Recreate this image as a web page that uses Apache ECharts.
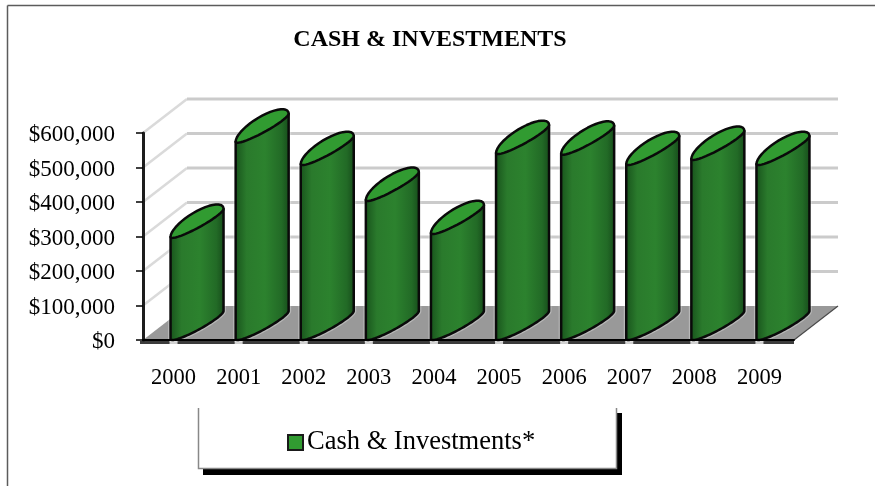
<!DOCTYPE html>
<html>
<head>
<meta charset="utf-8">
<script src="https://cdn.jsdelivr.net/npm/echarts@6/dist/echarts.min.js"></script>
<style>
    html, body { margin: 0; padding: 0; background: #fff; }
    #chart { width: 875px; height: 486px; }
</style>
</head>
<body>
<div id="chart"></div>
<script>
// values
const years = ['2000', '2001', '2002', '2003', '2004', '2005', '2006', '2007', '2008', '2009'];
const cashValues = [296000, 572000, 507000, 403000, 307000, 539000, 537000, 507000, 522000, 507000];
const wallTicks = [100000, 200000, 300000, 400000, 500000, 600000];
const seriesName = 'Cash & Investments*';

const fontName = '"Liberation Serif", "Times New Roman", serif';
const depthX = 44;   // how far the back wall is pushed right
const depthY = 34;   // and up

// the disc is not a true ellipse in the picture: it bulges more on its upper side
function discPoint(cx, cy, t) {
    const s = Math.sin(t);
    const bulge = s > 0 ? 12 : 5.5;
    return [cx + 26.5 * Math.cos(t), cy - 14 * Math.cos(t) - bulge * s];
}

function arc(cx, cy, from, to) {
    let pts = [];
    for (let i = 0; i <= 40; i++) {
        pts.push(discPoint(cx, cy, from + (to - from) * i / 40));
    }
    return pts;
}

function renderCylinder(params, api) {
    const top = api.coord([api.value(0), api.value(1)]);
    const base = api.coord([api.value(0), 0]);
    const cx = top[0] + depthX / 2 - 0.5;
    const cyTop = top[1] - 15;
    const cyBase = base[1] - 15;

    // side surface: lower arc of the base, closed up at the two top corners
    const bodyPts = [discPoint(cx, cyTop, Math.PI)]
        .concat(arc(cx, cyBase, Math.PI, 2 * Math.PI))
        .concat([discPoint(cx, cyTop, 0)]);

    const bodyFill = new echarts.graphic.LinearGradient(0, 0, 1, 0, [
        { offset: 0, color: '#17511b' },
        { offset: 0.22, color: '#2a7a2c' },
        { offset: 0.55, color: '#2c822e' },
        { offset: 0.85, color: '#226a26' },
        { offset: 1, color: '#164a1a' }
    ]);

    return {
        type: 'group',
        children: [
            {
                // pale halo that softens the grid lines next to each bar
                type: 'polygon',
                shape: { points: bodyPts },
                style: { fill: 'none', stroke: 'rgba(255,255,255,0.3)', lineWidth: 5, lineJoin: 'round' }
            },
            {
                type: 'polygon',
                shape: { points: bodyPts },
                style: { fill: bodyFill, stroke: '#0a0a0a', lineWidth: 2.5, lineJoin: 'round' }
            },
            {
                type: 'polygon',
                shape: { points: arc(cx, cyTop, 0, 2 * Math.PI) },
                style: { fill: '#319b31', stroke: '#0a0a0a', lineWidth: 2.5, lineJoin: 'round' }
            }
        ]
    };
}

// back wall grid lines, one per tick
function renderWallLine(params, api) {
    const y = api.coord([0, api.value(1)])[1];
    const x0 = params.coordSys.x;
    const x1 = x0 + params.coordSys.width;
    return {
        type: 'group',
        children: [
            {
                type: 'line',
                shape: { x1: x0, y1: y, x2: x0 + depthX, y2: y - depthY },
                style: { stroke: '#dadada', lineWidth: 2.5 }
            },
            {
                type: 'line',
                shape: { x1: x0 + depthX, y1: y - depthY, x2: x1 + depthX, y2: y - depthY },
                style: { stroke: '#cbcbcb', lineWidth: 3 }
            }
        ]
    };
}

// grey floor and the broken dark stripe under it
function renderFloor(params, api) {
    const x0 = params.coordSys.x;
    const x1 = x0 + params.coordSys.width;
    const y = api.coord([0, 0])[1];
    let children = [
        {
            type: 'polygon',
            shape: { points: [[x0, y], [x1, y], [x1 + depthX, y - depthY], [x0 + depthX, y - depthY]] },
            style: { fill: '#999999' }
        },
        {
            type: 'line',
            shape: { x1: x1, y1: y, x2: x1 + depthX, y2: y - depthY },
            style: { stroke: '#4a4a4a', lineWidth: 1.2 }
        },
        {
            type: 'line',
            shape: { x1: x0 - 3, y1: y + 2.5, x2: x1, y2: y + 2.5 },
            style: { stroke: '#cfcfcf', lineWidth: 3 }
        }
    ];
    let from = x0 - 3;
    for (let i = 0; i <= years.length; i++) {
        const to = i < years.length ? api.coord([i, 0])[0] - 6 : x1;
        children.push({
            type: 'line',
            shape: { x1: from, y1: y + 2.5, x2: to, y2: y + 2.5 },
            style: { stroke: '#3c3c3c', lineWidth: 3 }
        });
        from = to + 8;
    }
    return { type: 'group', children: children };
}

let cash_option = {
    animation: false,
    backgroundColor: '#fff',
    title: {
        text: 'CASH & INVESTMENTS',
        left: 425,
        top: 23,
        textAlign: 'center',
        textStyle: { fontFamily: fontName, fontSize: 24, fontWeight: 'bold', color: '#000' }
    },
    grid: { left: 143, right: 81, top: 133, bottom: 146 },
    legend: {
        data: [seriesName],
        left: 282,
        top: 424,
        icon: 'rect',
        itemWidth: 15,
        itemHeight: 15,
        itemGap: 6,
        textStyle: { fontFamily: fontName, fontSize: 26.5, color: '#000', padding: [0, 0, 0, -1] },
        selectedMode: false
    },
    xAxis: {
        type: 'category',
        data: years,
        z: 6,
        axisLine: { lineStyle: { color: '#000', width: 2 } },
        axisTick: { show: false },
        axisLabel: {
            margin: 27,
            formatter: (v) => '{a|' + v + '}',
            rich: {
                a: { fontFamily: fontName, fontSize: 22.5, color: '#000', padding: [0, 4, 0, 0] }
            }
        }
    },
    yAxis: {
        type: 'value',
        min: 0,
        max: 600000,
        interval: 100000,
        z: 6,
        axisLine: { show: true, lineStyle: { color: '#1c1c1c', width: 3 } },
        axisTick: { show: true, length: 7, lineStyle: { color: '#000', width: 1.5 } },
        splitLine: { show: false },
        axisLabel: {
            margin: 28,
            formatter: (v) => '{a|$' + v.toLocaleString('en-US') + '}',
            rich: {
                a: { fontFamily: fontName, fontSize: 23, color: '#000', padding: [4, 0, 0, 0] }
            }
        }
    },
    series: [
        {
            type: 'custom',
            name: 'floor',
            silent: true,
            z: 1,
            data: [[0, 0]],
            renderItem: renderFloor
        },
        {
            type: 'custom',
            name: 'wall',
            silent: true,
            z: 2,
            data: wallTicks.map((v) => [0, v]),
            renderItem: renderWallLine
        },
        {
            type: 'custom',
            name: seriesName,
            silent: true,
            z: 3,
            itemStyle: { color: '#319b31', borderColor: '#1a1a1a', borderWidth: 2 },
            data: cashValues.map((v, i) => [i, v]),
            renderItem: renderCylinder
        }
    ],
    graphic: [
        // outer frame, only top and left show
        { type: 'line', shape: { x1: 7.5, y1: 5.5, x2: 875, y2: 5.5 }, style: { stroke: '#5c5c5c', lineWidth: 1.5 } },
        { type: 'line', shape: { x1: 7.5, y1: 5.5, x2: 7.5, y2: 486 }, style: { stroke: '#5c5c5c', lineWidth: 1.5 } },
        // legend box, open at the top, heavy shadow
        { type: 'rect', shape: { x: 203, y: 469, width: 419, height: 6 }, style: { fill: '#000' } },
        { type: 'rect', shape: { x: 617, y: 413, width: 5, height: 60 }, style: { fill: '#000' } },
        { type: 'polyline', shape: { points: [[198.5, 408], [198.5, 468.5], [616.5, 468.5], [616.5, 408]] }, style: { fill: null, stroke: '#888', lineWidth: 1.5 } }
    ]
};

let cash_chart = echarts.init(document.getElementById('chart'), null, { renderer: 'canvas' });
cash_chart.setOption(cash_option);
</script>
</body>
</html>
